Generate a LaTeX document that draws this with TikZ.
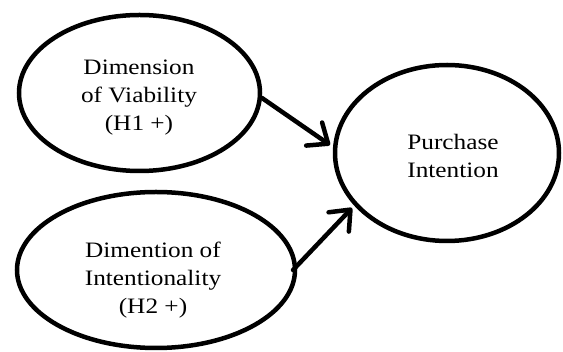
\documentclass[tikz,border=0pt]{standalone}
\usepackage{fontspec}
\setmainfont[FakeStretch=1.15]{Liberation Serif}
\usetikzlibrary{shapes.geometric,arrows.meta}
\begin{document}
\begin{tikzpicture}[x=1pt,y=-1pt,
  oval/.style={draw=black,line width=4.5pt,ellipse,inner sep=0pt,outer sep=0pt},
  txt/.style={align=center,inner sep=0pt,font=\fontsize{22}{28}\selectfont},
  conn/.style={line width=4.5pt,line cap=round,-{Straight Barb[length=17pt,width=28pt,round]}}]
\useasboundingbox (0,0) rectangle (563,352);
\node[oval,minimum width=241pt,minimum height=156pt] (v) at (139.5,93) {};
\node[oval,minimum width=278pt,minimum height=156pt] (i) at (156,270) {};
\node[oval,minimum width=224pt,minimum height=176pt] (p) at (447,153) {};
\node[txt] (vt) at (139,97.5) {Dimension\\of Viability\\(H1 +)};
\node[txt] (it) at (153,280.5) {Dimention of\\Intentionality\\(H2 +)};
\node[txt] (pt) at (453,156) {Purchase\\Intention};
\coordinate (a1) at (330,145);
\coordinate (a2) at (352,208);
\draw[conn] (v.east |- 0,98) ++(2,0) -- (a1);
\draw[conn] (i.east) ++(-2,0) -- (a2);
\end{tikzpicture}
\end{document}
